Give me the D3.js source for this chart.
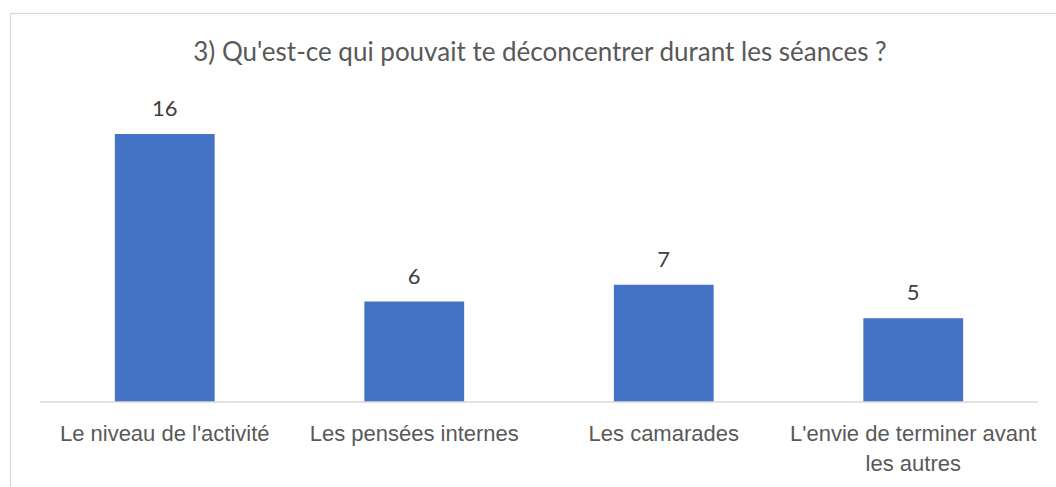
<!DOCTYPE html>
<html>
<head>
<meta charset="utf-8">
<script src="https://cdn.jsdelivr.net/npm/d3@7"></script>
<style>
  body { margin: 0; background: #fff; }
  svg { font-family: Lato, "Noto Sans", sans-serif; }
</style>
</head>
<body>
<script>
// data
var categories = ["Le niveau de l'activité", "Les pensées internes", "Les camarades", "L'envie de terminer avant les autres"];
var counts = [16, 6, 7, 5];
var title = "3) Qu'est-ce qui pouvait te déconcentrer durant les séances ?";

var W = 1056, H = 487;
var plot = {left: 40, right: 1038, top: 100.5, bottom: 402};

const svg = d3.select("body").append("svg")
    .attr("width", W)
    .attr("height", H);

// chart frame (runs off the right and bottom edges)
svg.append("rect")
    .attr("x", 10.5).attr("y", 13.5)
    .attr("width", W + 20).attr("height", H + 20)
    .attr("fill", "#fff")
    .attr("stroke", "#d9d9d9")
    .attr("stroke-width", 1.3);

svg.append("text")
    .attr("x", 540).attr("y", 61)
    .attr("text-anchor", "middle")
    .attr("font-size", "26px")
    .attr("fill", "#595959")
    .text(title);

var x = d3.scaleBand()
    .domain(categories)
    .range([plot.left, plot.right])
    .paddingInner(0.6)
    .paddingOuter(0.3);

var y = d3.scaleLinear()
    .domain([0, 18])
    .range([plot.bottom, plot.top]);

svg.selectAll(".bar")
    .data(categories)
    .enter()
    .append("rect")
    .attr("class", "bar")
    .attr("x", d => x(d))
    .attr("width", x.bandwidth())
    .attr("y", (d, i) => y(counts[i]))
    .attr("height", (d, i) => y(0) - y(counts[i]))
    .attr("fill", "#4472c4");

svg.selectAll(".val")
    .data(categories)
    .enter()
    .append("text")
    .attr("class", "val")
    .attr("x", d => x(d) + x.bandwidth() / 2)
    .attr("y", (d, i) => y(counts[i]) - 18)
    .attr("text-anchor", "middle")
    .attr("font-size", "22px")
    .attr("fill", "#404040")
    .text((d, i) => counts[i]);

// baseline axis
var axis = svg.append("g")
    .attr("transform", `translate(0, ${plot.bottom})`)
    .call(d3.axisBottom(x).tickSize(0).tickPadding(0).tickFormat(""));
axis.select(".domain")
    .attr("stroke", "#d9d9d9")
    .attr("stroke-width", 1.5)
    .attr("d", `M${plot.left},0H${plot.right}`);

// category labels, wrapped to the band step
var step = x.step();
axis.selectAll(".tick").each(function(d) {
    var t = d3.select(this).append("text")
        .attr("y", 39)
        .attr("text-anchor", "middle")
        .attr("font-size", "22px")
        .attr("fill", "#595959");
    var words = d.split(" "), line = [];
    var tspan = t.append("tspan").attr("x", 0).attr("dy", 0);
    words.forEach(function(w) {
        line.push(w);
        tspan.text(line.join(" "));
        if (tspan.node().getComputedTextLength() > step + 4 && line.length > 1) {
            line.pop();
            tspan.text(line.join(" "));
            line = [w];
            tspan = t.append("tspan").attr("x", 0).attr("dy", 30).text(w);
        }
    });
});
</script>
</body>
</html>
